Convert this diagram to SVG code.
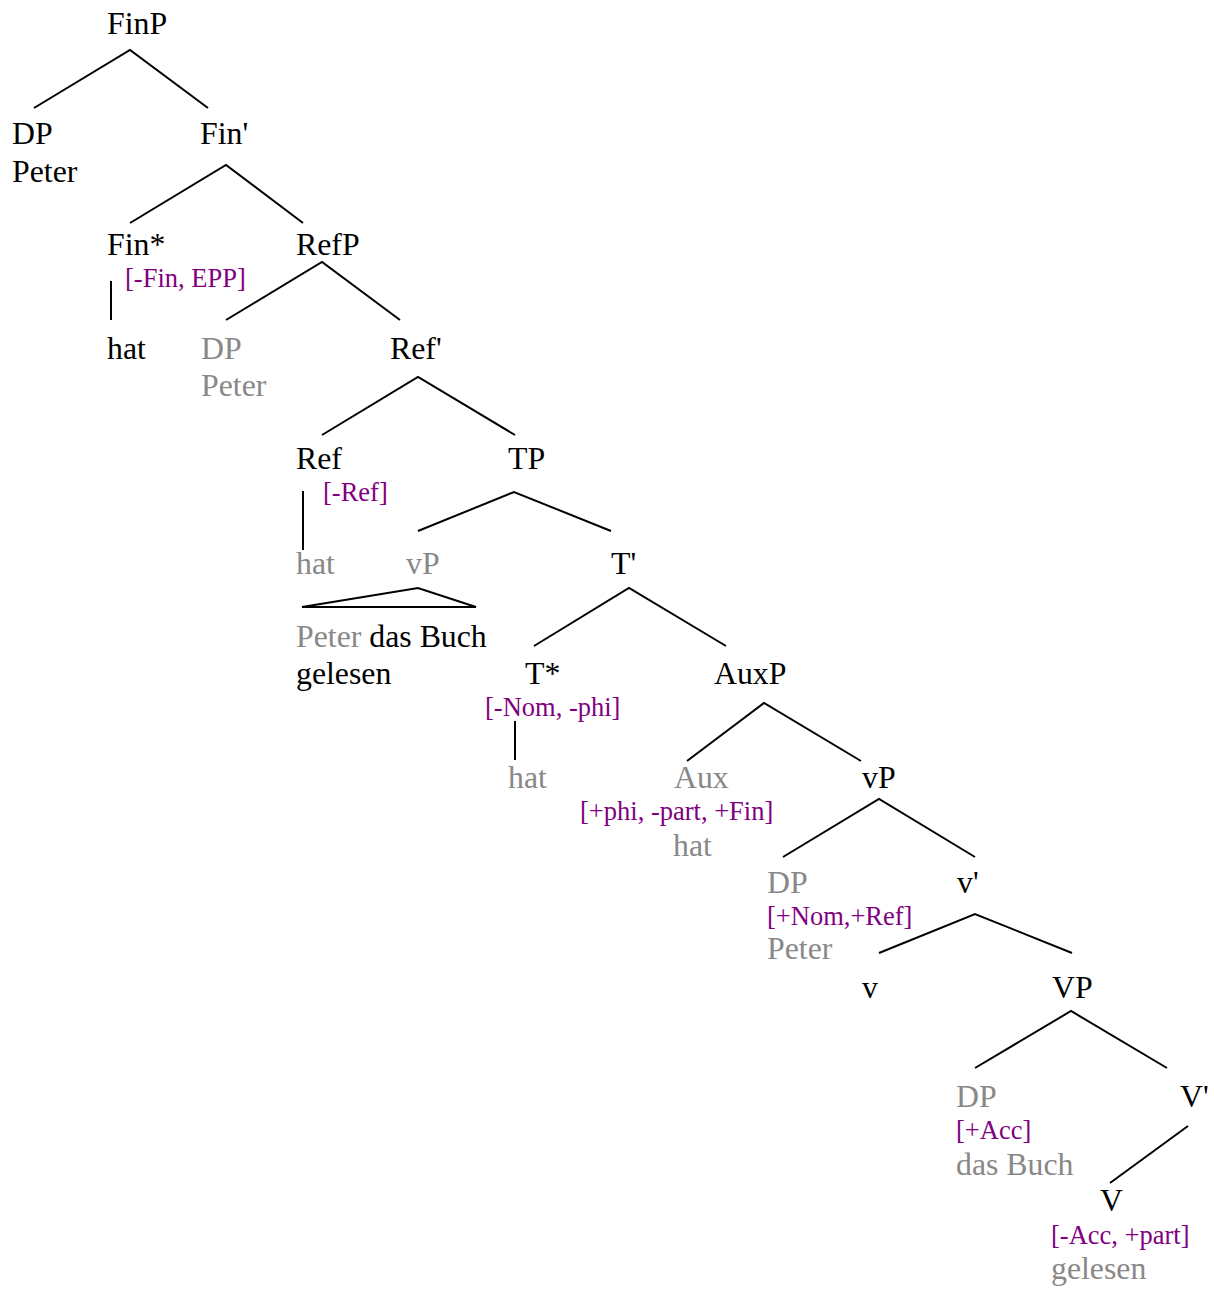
<svg xmlns="http://www.w3.org/2000/svg" width="1214" height="1289" viewBox="0 0 1214 1289">
<style>
text{font-family:"Liberation Serif","Times New Roman",serif;font-size:31.8px;fill:#000}
.g{fill:#888}
.f{font-size:26.5px;fill:#800080}
.e{stroke:#000;stroke-width:2;fill:none}
</style>
<rect width="1214" height="1289" fill="#fff"/>
<g id="connectors" class="e">
<path d="M34,108 L130,50 L208,108"/>
<path d="M130,223 L226,165 L303,223"/>
<path d="M111,281 V320"/>
<path d="M226,320 L322,262 L400,320"/>
<path d="M322,435 L418,377 L515,435"/>
<path d="M303,491 V550"/>
<path d="M418,531 L514,492 L611,531"/>
<path d="M302,607 L418,588 L476,607 Z"/>
<path d="M534,646 L629,588 L726,646"/>
<path d="M515,721 V760"/>
<path d="M687,761 L764,703 L861,761"/>
<path d="M783,857 L879,799 L975,857"/>
<path d="M879,953 L975,914 L1072,953"/>
<path d="M975,1068 L1071,1011 L1167,1068"/>
<path d="M1188,1126 L1110,1183"/>
</g>
<g id="n-FinP"><text x="107" y="34">FinP</text></g>
<g id="n-DP1"><text x="12" y="144">DP</text><text x="12" y="182">Peter</text></g>
<g id="n-Fin1"><text x="200" y="144">Fin'</text></g>
<g id="n-FinStar"><text x="107" y="255">Fin*</text><text class="f" x="125" y="287">[-Fin, EPP]</text></g>
<g id="n-hat1"><text x="107" y="359">hat</text></g>
<g id="n-RefP"><text x="296" y="255">RefP</text></g>
<g id="n-DP2"><text class="g" x="201" y="359">DP</text><text class="g" x="201" y="396">Peter</text></g>
<g id="n-Ref1"><text x="390" y="359">Ref'</text></g>
<g id="n-Ref"><text x="296" y="469">Ref</text><text class="f" x="323" y="501">[-Ref]</text></g>
<g id="n-TP"><text x="508" y="469">TP</text></g>
<g id="n-hat2"><text class="g" x="296" y="574">hat</text></g>
<g id="n-vP1"><text class="g" x="406" y="574">vP</text><text x="296" y="647"><tspan class="g">Peter</tspan> das Buch</text><text x="296" y="684">gelesen</text></g>
<g id="n-T1"><text x="611" y="574">T'</text></g>
<g id="n-TStar"><text x="525" y="684">T*</text><text class="f" x="485" y="716">[-Nom, -phi]</text></g>
<g id="n-hat3"><text class="g" x="508" y="788">hat</text></g>
<g id="n-AuxP"><text x="714" y="684">AuxP</text></g>
<g id="n-Aux"><text class="g" x="674" y="788">Aux</text><text class="f" x="580" y="820">[+phi, -part, +Fin]</text><text class="g" x="673" y="856">hat</text></g>
<g id="n-vP2"><text x="862" y="788">vP</text></g>
<g id="n-DP3"><text class="g" x="767" y="893">DP</text><text class="f" x="767" y="925">[+Nom,+Ref]</text><text class="g" x="767" y="959">Peter</text></g>
<g id="n-v1"><text x="957" y="893">v'</text></g>
<g id="n-v"><text x="862" y="998">v</text></g>
<g id="n-VP"><text x="1052" y="998">VP</text></g>
<g id="n-DP4"><text class="g" x="956" y="1107">DP</text><text class="f" x="956" y="1139">[+Acc]</text><text class="g" x="956" y="1175">das Buch</text></g>
<g id="n-V1"><text x="1180" y="1107">V'</text></g>
<g id="n-V"><text x="1100" y="1211">V</text><text class="f" x="1051" y="1244">[-Acc, +part]</text><text class="g" x="1051" y="1279">gelesen</text></g>
</svg>
